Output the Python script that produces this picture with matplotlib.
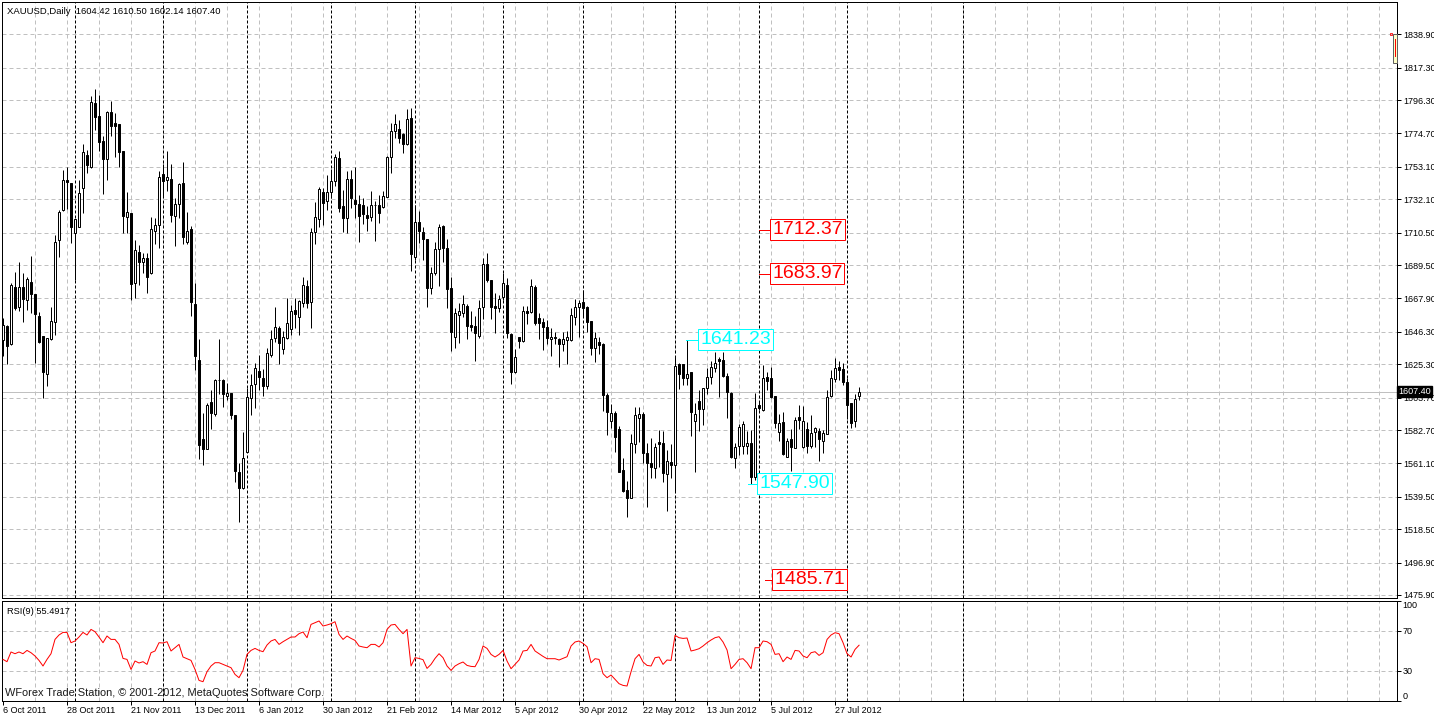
import numpy as np
import matplotlib
matplotlib.use('Agg')
import matplotlib.pyplot as plt
from matplotlib.patches import Rectangle

plt.rcParams['font.family'] = ['Liberation Sans', 'DejaVu Sans']

# XAUUSD daily bars, 6 Oct 2011 .. 6 Aug 2012
opens = [
    1641.0, 1650.3, 1638.2, 1675.5, 1662.6, 1675.1, 1666.9, 1678.5, 1670.5, 1656.5,
    1643.6, 1619.0, 1641.4, 1652.6, 1705.5, 1725.1, 1744.6, 1742.4, 1710.0, 1714.4,
    1739.2, 1760.7, 1753.2, 1794.2, 1786.0, 1769.8, 1758.4, 1788.4, 1781.2, 1780.6,
    1763.3, 1720.8, 1723.4, 1677.7, 1697.7, 1691.5, 1694.3, 1684.2, 1711.3, 1715.2,
    1748.5, 1744.6, 1745.0, 1721.5, 1728.8, 1742.4, 1704.7, 1712.9, 1664.3, 1628.0,
    1576.7, 1570.6, 1600.6, 1593.1, 1615.1, 1615.1, 1604.9, 1606.5, 1592.4, 1555.3,
    1545.0, 1568.7, 1603.2, 1612.3, 1620.9, 1616.6, 1611.2, 1631.3, 1642.1, 1649.0,
    1634.9, 1642.1, 1648.0, 1660.4, 1656.1, 1664.7, 1676.0, 1665.8, 1710.7, 1719.1,
    1736.6, 1731.2, 1737.0, 1743.9, 1758.6, 1727.7, 1719.8, 1745.0, 1731.6, 1728.8,
    1728.4, 1721.9, 1720.8, 1728.2, 1728.4, 1726.9, 1733.8, 1759.2, 1776.3, 1777.6,
    1774.1, 1767.7, 1784.5, 1694.5, 1717.6, 1711.1, 1706.2, 1674.4, 1684.1, 1699.7,
    1714.8, 1700.3, 1674.4, 1643.1, 1657.2, 1658.7, 1663.2, 1650.7, 1650.0, 1643.8,
    1662.1, 1689.9, 1679.8, 1663.0, 1661.5, 1669.0, 1676.6, 1644.9, 1620.5, 1642.7,
    1640.5, 1659.7, 1658.9, 1675.1, 1655.0, 1652.4, 1649.2, 1641.6, 1642.7, 1641.4,
    1638.2, 1641.0, 1641.0, 1656.1, 1662.6, 1665.8, 1662.1, 1653.3, 1635.6, 1639.9,
    1638.2, 1605.4, 1588.8, 1593.9, 1583.2, 1556.8, 1543.9, 1538.9, 1573.4, 1590.3,
    1592.9, 1567.6, 1561.1, 1557.9, 1574.7, 1574.1, 1554.0, 1562.2, 1560.1, 1625.2,
    1625.2, 1616.6, 1620.1, 1588.8, 1601.5, 1596.1, 1609.7, 1617.3, 1622.6, 1628.7,
    1628.0, 1617.9, 1606.9, 1564.4, 1572.3, 1572.6, 1572.6, 1574.1, 1552.5, 1598.9,
    1595.6, 1616.8, 1616.6, 1604.7, 1581.2, 1588.1, 1565.4, 1576.9, 1571.3, 1591.3,
    1571.9, 1583.3, 1572.6, 1581.6, 1582.0, 1575.6, 1580.1, 1604.7, 1615.5, 1623.3,
    1622.2, 1614.0, 1600.0, 1588.5, 1604.42,
]
highs = [
    1655.0, 1650.7, 1677.7, 1684.8, 1691.7, 1684.1, 1682.0, 1695.4, 1670.5, 1659.3,
    1643.6, 1642.0, 1662.1, 1708.9, 1725.1, 1751.0, 1752.8, 1742.4, 1719.1, 1744.6,
    1767.7, 1764.0, 1798.9, 1803.3, 1799.6, 1773.0, 1789.2, 1795.9, 1788.1, 1780.6,
    1763.3, 1737.0, 1723.4, 1705.7, 1702.5, 1697.5, 1697.5, 1720.4, 1719.8, 1750.6,
    1754.9, 1763.6, 1754.9, 1732.7, 1742.9, 1756.0, 1723.6, 1714.8, 1677.7, 1641.6,
    1593.5, 1600.0, 1608.6, 1615.5, 1641.6, 1615.5, 1613.4, 1606.5, 1592.4, 1561.1,
    1581.2, 1609.7, 1619.0, 1625.9, 1631.3, 1622.2, 1635.6, 1647.5, 1662.1, 1650.1,
    1647.0, 1668.0, 1663.5, 1668.0, 1666.9, 1682.0, 1679.8, 1713.7, 1730.1, 1740.3,
    1739.6, 1747.8, 1751.7, 1761.2, 1763.3, 1738.1, 1750.4, 1751.0, 1752.8, 1734.9,
    1732.7, 1727.7, 1737.4, 1731.0, 1734.9, 1737.4, 1760.1, 1781.7, 1787.3, 1783.4,
    1774.8, 1790.5, 1791.0, 1728.4, 1724.5, 1714.4, 1706.2, 1688.5, 1704.6, 1715.8,
    1715.4, 1706.1, 1682.0, 1661.9, 1665.1, 1670.1, 1664.3, 1659.7, 1656.5, 1666.9,
    1693.8, 1697.1, 1679.8, 1671.6, 1670.1, 1684.6, 1680.9, 1645.3, 1634.9, 1642.7,
    1663.0, 1663.0, 1680.5, 1676.6, 1658.2, 1655.0, 1653.9, 1648.5, 1646.4, 1642.0,
    1646.4, 1647.0, 1661.5, 1667.3, 1666.9, 1673.4, 1663.0, 1653.3, 1646.4, 1643.1,
    1638.8, 1606.5, 1599.6, 1595.0, 1585.3, 1564.8, 1549.7, 1579.9, 1597.8, 1597.8,
    1594.6, 1574.1, 1577.3, 1574.1, 1582.7, 1582.1, 1569.8, 1573.7, 1630.6, 1625.9,
    1625.2, 1641.2, 1620.1, 1600.4, 1608.6, 1610.1, 1622.6, 1627.4, 1633.4, 1630.2,
    1633.4, 1619.4, 1607.1, 1574.1, 1586.4, 1588.5, 1582.0, 1582.7, 1606.4, 1600.6,
    1624.8, 1620.5, 1623.7, 1604.7, 1592.8, 1594.1, 1577.7, 1583.3, 1591.3, 1598.9,
    1598.5, 1587.7, 1592.4, 1584.9, 1583.8, 1582.7, 1608.6, 1621.5, 1629.1, 1627.4,
    1625.9, 1616.1, 1600.0, 1605.8, 1610.50,
]
lows = [
    1630.6, 1625.4, 1637.7, 1660.4, 1660.0, 1652.8, 1660.4, 1658.7, 1626.3, 1638.8,
    1603.6, 1611.2, 1641.0, 1644.0, 1694.5, 1724.7, 1725.6, 1704.0, 1679.8, 1713.9,
    1723.0, 1748.9, 1752.5, 1776.9, 1763.5, 1735.3, 1744.6, 1773.0, 1759.7, 1752.8,
    1710.5, 1710.5, 1666.9, 1668.0, 1676.6, 1684.6, 1671.6, 1683.7, 1703.1, 1700.8,
    1733.8, 1737.7, 1717.6, 1701.8, 1719.8, 1703.1, 1702.9, 1656.7, 1621.6, 1563.7,
    1560.1, 1570.4, 1583.2, 1591.8, 1605.8, 1597.4, 1602.2, 1589.6, 1549.3, 1522.9,
    1544.3, 1568.7, 1592.4, 1596.8, 1608.6, 1604.7, 1609.1, 1629.8, 1639.5, 1625.2,
    1631.9, 1641.4, 1644.0, 1649.0, 1644.2, 1662.1, 1661.5, 1649.0, 1702.9, 1714.4,
    1715.4, 1725.1, 1732.7, 1740.9, 1723.6, 1711.1, 1710.0, 1726.2, 1719.8, 1704.6,
    1715.9, 1711.6, 1718.0, 1705.1, 1716.9, 1726.2, 1733.4, 1749.3, 1772.0, 1768.3,
    1761.8, 1767.2, 1685.9, 1692.8, 1704.0, 1692.8, 1662.6, 1670.8, 1683.1, 1675.9,
    1691.7, 1661.9, 1633.8, 1636.0, 1639.2, 1656.1, 1641.4, 1647.0, 1627.6, 1642.0,
    1654.3, 1678.7, 1654.3, 1645.3, 1659.3, 1666.9, 1642.5, 1612.3, 1619.8, 1635.6,
    1639.9, 1651.3, 1658.2, 1650.7, 1641.4, 1634.5, 1638.4, 1630.6, 1638.2, 1623.3,
    1634.1, 1625.2, 1640.5, 1650.7, 1643.1, 1656.1, 1646.4, 1631.3, 1626.5, 1631.7,
    1595.0, 1579.5, 1583.8, 1568.7, 1555.3, 1542.8, 1526.6, 1538.5, 1568.0, 1575.2,
    1561.1, 1533.1, 1551.4, 1551.4, 1559.0, 1549.3, 1530.3, 1551.4, 1542.8, 1609.1,
    1611.9, 1611.9, 1578.8, 1555.8, 1582.1, 1586.0, 1605.8, 1612.3, 1620.5, 1604.3,
    1617.3, 1590.2, 1564.4, 1557.9, 1566.5, 1566.9, 1566.9, 1547.9, 1550.3, 1595.6,
    1595.0, 1608.6, 1603.2, 1584.2, 1575.6, 1566.5, 1565.4, 1556.2, 1570.8, 1583.3,
    1570.8, 1568.0, 1571.3, 1571.9, 1562.6, 1567.6, 1579.9, 1604.3, 1614.0, 1615.1,
    1611.8, 1589.8, 1584.2, 1584.9, 1602.14,
]
closes = [
    1650.7, 1637.3, 1676.6, 1661.9, 1675.5, 1667.5, 1680.2, 1670.5, 1657.6, 1639.9,
    1620.5, 1642.0, 1653.1, 1704.6, 1724.1, 1744.6, 1743.1, 1714.4, 1719.1, 1735.9,
    1762.5, 1754.1, 1794.8, 1785.6, 1769.4, 1757.9, 1788.6, 1779.7, 1779.7, 1762.9,
    1721.3, 1723.6, 1677.0, 1699.0, 1691.7, 1694.3, 1682.0, 1712.6, 1715.2, 1746.3,
    1744.1, 1746.3, 1721.9, 1728.8, 1742.0, 1707.9, 1711.6, 1665.8, 1630.9, 1573.0,
    1570.2, 1598.7, 1594.0, 1615.1, 1614.9, 1605.8, 1606.5, 1592.4, 1556.4, 1545.4,
    1564.4, 1603.9, 1611.9, 1622.6, 1617.3, 1611.2, 1632.4, 1641.4, 1649.6, 1638.8,
    1643.2, 1651.8, 1659.5, 1657.8, 1666.2, 1676.6, 1664.7, 1710.7, 1720.4, 1738.5,
    1729.5, 1737.0, 1743.9, 1759.2, 1726.2, 1720.2, 1745.0, 1732.7, 1728.8, 1721.5,
    1722.3, 1720.2, 1728.4, 1728.6, 1723.0, 1734.2, 1759.7, 1776.3, 1780.8, 1772.0,
    1767.7, 1783.8, 1696.4, 1717.6, 1711.8, 1706.2, 1674.4, 1684.6, 1699.7, 1714.3,
    1700.7, 1673.8, 1646.4, 1658.2, 1659.7, 1664.1, 1650.2, 1649.6, 1645.3, 1661.5,
    1689.9, 1679.8, 1662.6, 1661.5, 1667.5, 1677.6, 1645.3, 1620.0, 1630.2, 1640.3,
    1659.7, 1658.2, 1675.9, 1651.8, 1651.8, 1649.2, 1642.0, 1642.7, 1642.0, 1638.2,
    1641.4, 1643.1, 1657.2, 1662.1, 1664.7, 1661.9, 1652.9, 1635.6, 1642.1, 1637.8,
    1605.4, 1594.6, 1593.9, 1578.4, 1555.8, 1543.4, 1538.9, 1574.1, 1592.4, 1592.9,
    1568.0, 1561.1, 1559.0, 1571.9, 1573.4, 1554.7, 1562.7, 1560.1, 1624.2, 1618.8,
    1616.6, 1618.8, 1594.6, 1593.1, 1596.1, 1609.7, 1616.8, 1623.3, 1626.3, 1627.4,
    1617.9, 1607.5, 1565.4, 1571.9, 1584.4, 1586.4, 1574.1, 1552.5, 1597.2, 1596.7,
    1616.6, 1614.6, 1604.3, 1587.0, 1587.0, 1566.9, 1575.6, 1571.9, 1589.2, 1589.2,
    1588.5, 1572.3, 1580.5, 1583.8, 1576.7, 1580.5, 1604.3, 1616.1, 1622.6, 1621.5,
    1614.0, 1598.9, 1587.0, 1602.6, 1607.40,
]
rsi = [
    41.3, 39.0, 48.7, 47.0, 48.7, 47.0, 50.3, 48.0, 44.7, 40.3,
    34.7, 41.3, 47.0, 61.3, 65.7, 68.3, 68.3, 58.0, 59.7, 63.7,
    68.3, 65.7, 71.3, 69.0, 63.7, 58.0, 64.7, 61.3, 61.3, 56.3,
    42.3, 41.3, 31.3, 39.7, 37.7, 39.0, 36.3, 48.0, 49.7, 58.0,
    57.7, 59.0, 49.7, 53.0, 56.3, 43.7, 42.0, 40.3, 31.3, 20.3,
    19.0, 29.0, 34.7, 38.0, 38.0, 36.3, 34.7, 33.0, 26.3, 23.0,
    30.3, 46.3, 50.3, 52.3, 50.3, 49.0, 55.7, 59.7, 61.3, 56.3,
    59.0, 61.3, 63.7, 63.7, 67.0, 68.7, 63.0, 76.3, 78.0, 79.7,
    74.7, 75.7, 77.0, 79.0, 66.3, 61.3, 64.7, 62.3, 60.3, 54.7,
    53.7, 53.0, 56.3, 56.3, 53.7, 58.0, 71.3, 75.7, 76.3, 71.3,
    67.0, 71.3, 34.7, 43.0, 42.3, 41.0, 32.3, 36.3, 42.3, 47.0,
    43.0, 34.7, 30.3, 34.7, 37.0, 38.7, 35.3, 34.3, 34.0, 41.3,
    54.7, 52.3, 46.3, 43.7, 46.3, 50.3, 39.7, 32.0, 36.3, 40.7,
    49.7, 50.3, 56.3, 49.7, 47.0, 44.3, 42.0, 42.0, 42.0, 40.7,
    42.3, 44.0, 54.7, 58.7, 59.7, 57.3, 54.0, 38.0, 42.0, 41.3,
    27.0, 23.0, 25.7, 21.3, 17.0, 15.3, 14.7, 29.0, 42.0, 46.3,
    38.7, 35.3, 34.7, 43.0, 43.7, 36.3, 40.7, 40.3, 65.3, 63.0,
    62.3, 62.7, 49.7, 50.7, 52.0, 54.7, 58.0, 60.7, 63.0, 64.0,
    58.7, 50.7, 32.0, 36.3, 41.3, 42.0, 38.0, 32.0, 53.0, 53.0,
    59.7, 59.0, 56.3, 46.3, 47.0, 39.0, 43.7, 41.3, 50.3, 49.7,
    44.7, 43.0, 48.0, 49.0, 45.3, 48.0, 61.3, 65.7, 68.0, 67.0,
    58.0, 47.0, 43.7, 51.3, 55.4917,
]

date_labels = ['6 Oct 2011', '28 Oct 2011', '21 Nov 2011', '13 Dec 2011', '6 Jan 2012',
               '30 Jan 2012', '21 Feb 2012', '14 Mar 2012', '5 Apr 2012', '30 Apr 2012',
               '22 May 2012', '13 Jun 2012', '5 Jul 2012', '27 Jul 2012']
price_ticks = [1838.9, 1817.3, 1796.3, 1774.7, 1753.1, 1732.1, 1710.5, 1689.5, 1667.9,
               1646.3, 1625.3, 1603.7, 1582.7, 1561.1, 1539.5, 1518.5, 1496.9, 1475.9]
rsi_ticks = [0, 30, 70, 100]
month_starts = [18, 40, 61, 82, 103, 125, 145, 168, 189, 211, 240]

# fibo-style price levels drawn as text objects
levels = [1712.37, 1683.97, 1641.23, 1547.90, 1485.71]
level_colors = ['#ff0000', '#ff0000', '#00ffff', '#00ffff', '#ff0000']
level_start = [189, 189, 170.75, 186.25, 190.5]
level_box = [191.75, 191.75, 173.8, 188.5, 192.25]

last_price = 1607.40

W, H = 1434, 718
lw = 0.72
grid_c = '#c0c0c0'


def box(x0, y0, x1, y1):
    return [x0 / W, 1 - y1 / H, (x1 - x0) / W, (y1 - y0) / H]


fig = plt.figure(figsize=(W / 100, H / 100), dpi=100)
fig.patch.set_facecolor('white')
ax = fig.add_axes(box(2, 1.7, 1396.7, 597.7))
ax_rsi = fig.add_axes(box(2, 600.7, 1396.7, 700.7))

o = np.array(opens)
c = np.array(closes)
x = np.arange(len(c))

for a in (ax, ax_rsi):
    a.set_xlim(-0.25, 348.4)
    for i in range(8, 349, 8):
        a.axvline(i, color=grid_c, lw=lw, ls=(0, (4, 3)), zorder=0.5)
    for m in month_starts:
        a.axvline(m, color='black', lw=lw, ls=(0, (3, 2)), zorder=1)
    for s in a.spines.values():
        s.set_linewidth(lw)

# price panel
ax.set_ylim(1474.15, 1860.0)
for p in price_ticks:
    ax.axhline(p, color=grid_c, lw=lw, ls=(0, (4, 3)), zorder=0.5)
ax.axhline(last_price, color=grid_c, lw=lw, zorder=0.6)

ax.vlines(x, lows, highs, color='black', lw=lw, zorder=2)
body_low = np.minimum(o, c)
body_h = np.maximum(np.abs(c - o), 0.35)
ax.bar(x, body_h, bottom=body_low, width=0.5, color=np.where(c >= o, 'white', 'black'),
       edgecolor='black', linewidth=lw, zorder=3)

for v, col, x0, x1 in zip(levels, level_colors, level_start, level_box):
    ax.plot([x0, x1], [v, v], color=col, lw=lw, zorder=4)
    ax.text(x1 + 0.5, v, f'{v:.2f}', color=col, fontsize=14, ha='left', va='center', zorder=5,
            bbox=dict(boxstyle='square,pad=0.1', fc='white', ec=col, lw=lw))

ax.yaxis.tick_right()
ax.set_yticks(price_ticks)
ax.set_yticklabels([f'{p:.2f}' for p in price_ticks])
ax.tick_params(axis='y', direction='out', length=3, width=lw, pad=2, labelsize=6.5)
ax.set_xticks([])
ax.text(1.0012, last_price, f'{last_price:.2f}', transform=ax.get_yaxis_transform(),
        color='white', fontsize=6.5, ha='left', va='center', clip_on=False, zorder=10,
        bbox=dict(boxstyle='square,pad=0.12', fc='black', ec='black'))

# little trade marker at top right
ax.add_patch(Rectangle((347.5, 1820.3), 1.0, 18.6, fc='#ffffc8', ec='#606060', lw=lw,
                       clip_on=False, zorder=6))
ax.plot([348.1, 348.1], [1825.0, 1836.0], color='red', lw=lw, clip_on=False, zorder=7)
ax.plot([347.1], [1838.9], marker='s', ms=2, mfc='none', mec='red', mew=0.6,
        clip_on=False, zorder=7)

# RSI panel
ax_rsi.set_ylim(0, 100)
for lvl in (30, 70):
    ax_rsi.axhline(lvl, color=grid_c, lw=lw, ls=(0, (4, 3)), zorder=0.5)
ax_rsi.plot(x, rsi, color='#ff0000', lw=lw, zorder=3)
ax_rsi.yaxis.tick_right()
ax_rsi.set_yticks(rsi_ticks)
ax_rsi.set_yticklabels([str(t) for t in rsi_ticks])
ax_rsi.tick_params(axis='y', direction='out', length=3, width=lw, pad=1, labelsize=6.5)
ylabs = ax_rsi.get_yticklabels()
ylabs[0].set_va('bottom')
ylabs[-1].set_va('top')

ax_rsi.set_xticks(np.arange(len(date_labels)) * 16)
ax_rsi.set_xticklabels(date_labels)
ax_rsi.tick_params(axis='x', direction='out', length=3, width=lw, pad=1, labelsize=6.5)
for lab in ax_rsi.get_xticklabels():
    lab.set_ha('left')

fig.text(6.7 / W, 1 - 11 / H, 'XAUUSD,Daily  1604.42 1610.50 1602.14 1607.40',
         fontsize=6.8, ha='left', va='center', color='black')
fig.text(6.7 / W, 1 - 611.3 / H, 'RSI(9) 55.4917', fontsize=6.7, ha='left', va='center')
fig.text(5 / W, 1 - 693.5 / H, 'WForex Trade Station, \u00a9 2001-2012, MetaQuotes Software Corp.',
         fontsize=7.9, ha='left', va='center', color='#1a1a1a')

fig.savefig('out.png', dpi=100, facecolor='white')
